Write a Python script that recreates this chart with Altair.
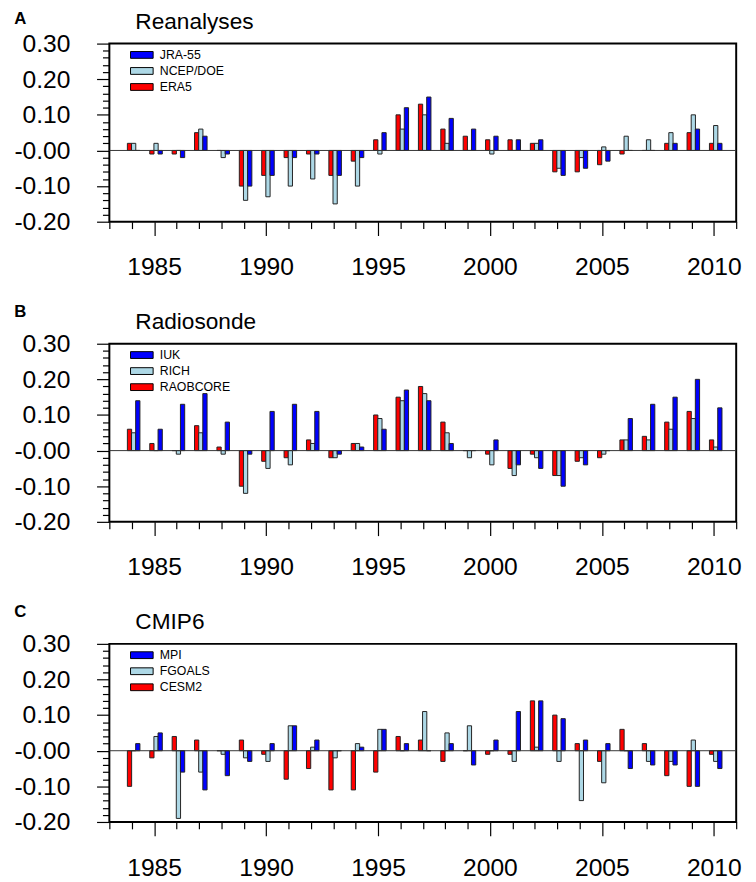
import altair as alt
import pandas as pd

years = list(range(1984, 2011))

panel_letters = ["A", "B", "C"]
panel_titles = ["Reanalyses", "Radiosonde", "CMIP6"]

# bar order within each year: red, light blue, blue
names_a = ["ERA5", "NCEP/DOE", "JRA-55"]
era5 = [0.02, -0.01, -0.01, 0.05, 0.00, -0.10, -0.07, -0.02, -0.01, -0.07, -0.03, 0.03, 0.10, 0.13,
        0.06, 0.04, 0.03, 0.03, 0.02, -0.06, -0.06, -0.04, -0.01, 0.00, 0.02, 0.05, 0.02]
ncep = [0.02, 0.02, 0.00, 0.06, -0.02, -0.14, -0.13, -0.10, -0.08, -0.15, -0.10, -0.01, 0.06, 0.10,
        0.02, 0.00, -0.01, 0.00, 0.02, -0.05, -0.02, 0.01, 0.04, 0.03, 0.05, 0.10, 0.07]
jra55 = [0.00, -0.01, -0.02, 0.04, -0.01, -0.10, -0.07, -0.02, -0.01, -0.07, -0.02, 0.05, 0.12, 0.15,
         0.09, 0.06, 0.04, 0.03, 0.03, -0.07, -0.05, -0.03, 0.00, 0.00, 0.02, 0.06, 0.02]

names_b = ["RAOBCORE", "RICH", "IUK"]
raobcore = [0.06, 0.02, 0.00, 0.07, 0.01, -0.10, -0.03, -0.02, 0.03, -0.02, 0.02, 0.10, 0.15, 0.18,
            0.08, 0.00, -0.01, -0.05, -0.01, -0.07, -0.03, -0.02, 0.03, 0.04, 0.08, 0.11, 0.03]
rich = [0.05, 0.00, -0.01, 0.05, -0.01, -0.12, -0.05, -0.04, 0.02, -0.02, 0.02, 0.09, 0.14, 0.16,
        0.05, -0.02, -0.04, -0.07, -0.02, -0.07, -0.02, -0.01, 0.03, 0.03, 0.06, 0.09, 0.01]
iuk = [0.14, 0.06, 0.13, 0.16, 0.08, -0.01, 0.11, 0.13, 0.11, -0.01, 0.01, 0.06, 0.17, 0.14,
       0.02, 0.00, 0.03, -0.04, -0.05, -0.10, -0.04, 0.00, 0.09, 0.13, 0.15, 0.20, 0.12]

names_c = ["CESM2", "FGOALS", "MPI"]
cesm2 = [-0.10, -0.02, 0.04, 0.03, 0.00, 0.03, -0.01, -0.08, -0.05, -0.11, -0.11, -0.06, 0.04, 0.03,
         -0.03, 0.00, -0.01, -0.01, 0.14, 0.10, 0.02, -0.03, 0.06, 0.02, -0.07, -0.10, -0.01]
fgoals = [0.00, 0.04, -0.19, -0.06, -0.01, -0.02, -0.03, 0.07, 0.01, -0.02, 0.02, 0.06, 0.00, 0.11,
          0.05, 0.07, 0.00, -0.03, 0.01, -0.03, -0.14, -0.09, 0.00, -0.03, -0.03, 0.03, -0.03]
mpi = [0.02, 0.05, -0.06, -0.11, -0.07, -0.03, 0.02, 0.07, 0.03, 0.00, 0.01, 0.06, 0.02, 0.00,
       0.02, -0.04, 0.03, 0.11, 0.14, 0.09, 0.03, 0.02, -0.05, -0.04, -0.04, -0.10, -0.05]

x_ticks = list(range(1983, 2012))
y_ticks = [round(-0.20 + 0.02 * i, 2) for i in range(26)]

bar_colors = ["#ff0000", "#add8e6", "#0000ff"]
letter_tops = [-32.5, -40, -40]
FONT = "Liberation Sans"


def make_panel(letter, title, names, series, letter_y):
    rows = []
    for slot, (nm, vals) in enumerate(zip(names, series)):
        for yr, v in zip(years, vals):
            rows.append({"year": yr, "value": v, "name": nm, "slot": slot})
    df = pd.DataFrame(rows)

    xscale = alt.Scale(domain=[1983, 2011], nice=False, zero=False)
    yscale = alt.Scale(domain=[-0.2, 0.3], nice=False, zero=False)

    xaxis = alt.Axis(
        values=x_ticks, format="d", title=None, grid=False, domain=False,
        tickSize={"condition": {"test": "datum.value % 5 === 0", "value": 14}, "value": 7},
        labelExpr="datum.value % 5 === 0 ? datum.label : ''",
        tickColor="black", tickWidth=1.2, labelFont=FONT, labelFontSize=25,
        labelColor="black", labelPadding=20, labelOverlap=False, labelFlush=False,
    )
    yaxis = alt.Axis(
        values=y_ticks, title=None, grid=False, domain=False,
        tickSize={"condition": {"test": "abs(datum.value*10 - round(datum.value*10)) < 0.001", "value": 13},
                  "value": 7},
        labelExpr=("abs(datum.value*10 - round(datum.value*10)) < 0.001 ? "
                   "(datum.value === 0 ? '-0.00' : ((datum.value < 0 ? '-' : '') + format(abs(datum.value), '.2f'))) : ''"),
        tickColor="black", tickWidth=1.2, labelFont=FONT, labelFontSize=25,
        labelColor="black", labelPadding=27, labelOverlap=False, labelFlush=False,
    )

    legend = alt.Legend(
        orient="none", legendX=26.5, legendY=5, title=None,
        symbolType="M-2,-0.6H2V0.6H-2Z", symbolSize=132,
        symbolStrokeColor="black", symbolStrokeWidth=1, symbolOpacity=1,
        labelFont=FONT, labelFontSize=12.5, labelColor="black",
        rowPadding=3.3, labelOffset=11.75, padding=0,
    )

    bars = alt.Chart(df).transform_calculate(
        x0="datum.year - 0.195 + datum.slot * 0.185",
        x1="datum.year - 0.005 + datum.slot * 0.185",
    ).mark_bar(stroke="#222222", strokeWidth=1).encode(
        x=alt.X("x0:Q", scale=xscale, axis=xaxis),
        x2="x1:Q",
        y=alt.Y("value:Q", scale=yscale, axis=yaxis),
        y2=alt.datum(0),
        fill=alt.Fill("name:N", scale=alt.Scale(domain=names[::-1], range=bar_colors[::-1]), legend=legend),
    )

    zero = alt.Chart(pd.DataFrame({"z": [0.0]})).mark_rule(color="#333333", strokeWidth=1).encode(
        y=alt.Y("z:Q", scale=yscale, axis=yaxis)
    )

    ttl = alt.Chart(pd.DataFrame({"t": [title]})).mark_text(
        align="left", baseline="top", fontSize=23, font=FONT, color="black"
    ).encode(text="t:N", x=alt.value(26.4), y=alt.value(-33))

    let = alt.Chart(pd.DataFrame({"t": [letter]})).mark_text(
        align="left", baseline="top", fontSize=17, font=FONT, fontWeight="bold", color="black"
    ).encode(text="t:N", x=alt.value(-96.6), y=alt.value(letter_y))

    return alt.layer(bars, zero, ttl, let).properties(width=637, height=181)


panels = [
    make_panel(panel_letters[0], panel_titles[0], names_a, [era5, ncep, jra55], letter_tops[0]),
    make_panel(panel_letters[1], panel_titles[1], names_b, [raobcore, rich, iuk], letter_tops[1]),
    make_panel(panel_letters[2], panel_titles[2], names_c, [cesm2, fgoals, mpi], letter_tops[2]),
]

chart = alt.vconcat(*panels, spacing=22).resolve_scale(
    fill="independent", x="independent", y="independent"
).resolve_legend(fill="independent").configure_view(
    stroke="black", strokeWidth=2
).properties(background="white", padding={"top": -6, "left": 5, "right": 5, "bottom": 5})

chart.save("out.html", embed_options={"renderer": "svg", "actions": False})
